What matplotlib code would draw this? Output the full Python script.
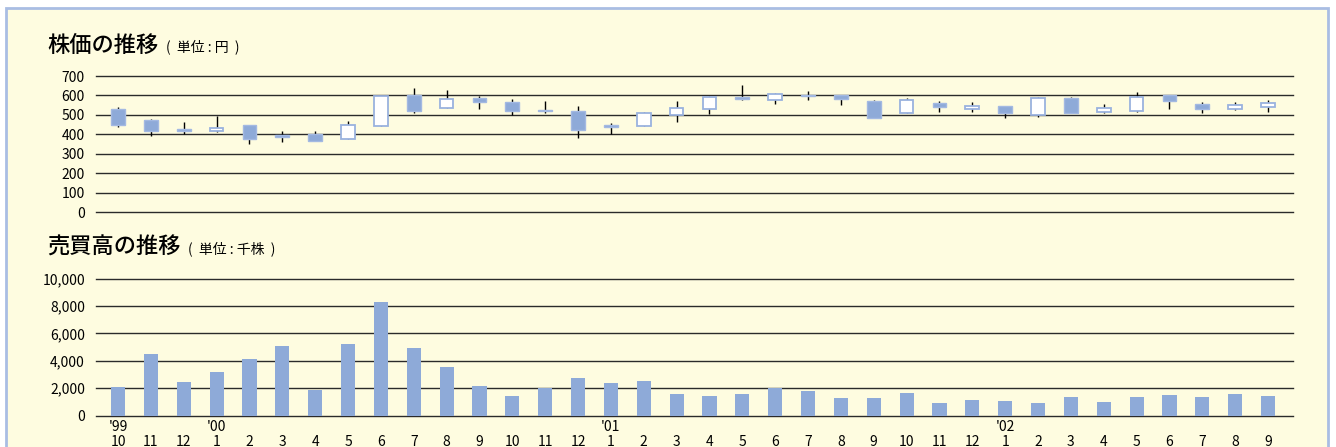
import matplotlib
matplotlib.use("Agg")
import matplotlib.pyplot as plt
from matplotlib.patches import Rectangle
import numpy as np

plt.rcParams['font.family'] = ['Noto Sans CJK JP', 'DejaVu Sans']

# 月 (1999年10月 〜 2002年9月)
months = [10, 11, 12] + list(range(1, 13)) + list(range(1, 13)) + list(range(1, 10))
years = {0: "'99", 3: "'00", 15: "'01", 27: "'02"}

# 株価 (円) 始値・高値・安値・終値
opens = [530, 476, 430, 419, 446, 395, 402, 375, 445, 601, 537, 587,
         566, 527, 518, 446, 441, 500, 532, 594, 578, 602, 602, 571,
         512, 563, 529, 546, 501, 585, 517, 522, 602, 558, 532, 543]
highs = [540, 479, 465, 495, 446, 417, 417, 469, 599, 640, 628, 599,
         582, 571, 546, 458, 513, 571, 599, 652, 612, 621, 602, 577,
         587, 572, 565, 546, 592, 592, 555, 616, 602, 565, 566, 575]
lows = [440, 393, 400, 411, 353, 362, 368, 375, 445, 508, 537, 532,
        500, 512, 383, 400, 441, 462, 505, 575, 555, 578, 553, 486,
        512, 515, 513, 484, 491, 508, 510, 515, 529, 512, 527, 513]
closes = [450, 419, 419, 434, 375, 388, 368, 446, 599, 520, 580, 568,
          521, 519, 423, 440, 508, 536, 592, 584, 607, 596, 582, 486,
          575, 542, 546, 508, 585, 508, 534, 592, 570, 532, 549, 559]

# 売買高 (千株)
volume = [2100, 4500, 2450, 3200, 4150, 5100, 1870, 5230, 8300, 4950, 3550, 2150,
          1420, 2020, 2730, 2370, 2510, 1560, 1420, 1560, 2020, 1780, 1270, 1270,
          1630, 900, 1120, 1050, 900, 1340, 980, 1340, 1490, 1340, 1560, 1420]

BG = '#fefce0'
BLUE = '#8eaad8'
EDGE = '#a3b9e2'
GRID = '#2a2a2a'

fig = plt.figure(figsize=(13.36, 4.47), dpi=100)
fig.patch.set_facecolor('white')
fig.patches.append(Rectangle((6 / 1336, -0.05), (1328 - 6) / 1336, 1.05 - 7.5 / 447,
                             transform=fig.transFigure, facecolor=BG,
                             edgecolor='#a9bde3', lw=2, zorder=-5))

x = np.arange(len(months))
left = 96 / 1336
width = (1293 - 96) / 1336
xlim = (-0.67, 35.76)


def style(ax, ticks, labels):
    ax.set_facecolor('none')
    ax.set_xlim(*xlim)
    for s in ax.spines.values():
        s.set_visible(False)
    ax.set_yticks(ticks)
    ax.set_yticklabels(labels, fontsize=10)
    ax.tick_params(axis='y', length=0, pad=8)
    for t in ticks:
        ax.axhline(t, color=GRID, lw=1.0, zorder=1, clip_on=False)


# 株価の推移
ax1 = fig.add_axes([left, 1 - 212.3 / 447, width, (212.3 - 76) / 447])
style(ax1, np.arange(0, 701, 100), [str(v) for v in range(0, 701, 100)])
ax1.set_ylim(0, 700)
ax1.set_xticks([])
o = np.array(opens)
c = np.array(closes)
up = c >= o
ax1.vlines(x, lows, highs, color='black', lw=1.0, zorder=2)
body_bot = np.minimum(o, c)
body_h = np.maximum(np.abs(c - o), 3)
ax1.bar(x[~up], body_h[~up], 0.42, bottom=body_bot[~up], color=BLUE,
        edgecolor=EDGE, lw=1.0, zorder=3)
ax1.bar(x[up], body_h[up], 0.42, bottom=body_bot[up], color='white',
        edgecolor='#9ab2de', lw=1.3, zorder=3)

# 売買高の推移
ax2 = fig.add_axes([left, 1 - 415.5 / 447, width, (415.5 - 278.7) / 447])
style(ax2, np.arange(0, 10001, 2000), ['{:,}'.format(v) for v in range(0, 10001, 2000)])
ax2.set_ylim(0, 10000)
ax2.bar(x, volume, 0.43, color=BLUE, zorder=2)
ax2.set_xticks(x)
ax2.set_xticklabels(['{}\n{}'.format(years.get(i, ''), m) for i, m in enumerate(months)],
                    fontsize=10, linespacing=1.1)
ax2.tick_params(axis='x', length=0, pad=3.5)

# タイトル
for y, title, unit in [(45, '株価の推移', '(  単位 : 円  )'),
                       (247, '売買高の推移', '(  単位 : 千株  )')]:
    t = fig.text(47 / 1336, 1 - y / 447, title, fontsize=16, fontweight='medium',
                 va='center', ha='left')
    fig.canvas.draw()
    bb = t.get_window_extent()
    fig.text((bb.x1 + 8) / 1336, 1 - (y + 1.5) / 447, unit, fontsize=10,
             va='center', ha='left')

fig.savefig('out.png', dpi=100, facecolor=fig.get_facecolor())
